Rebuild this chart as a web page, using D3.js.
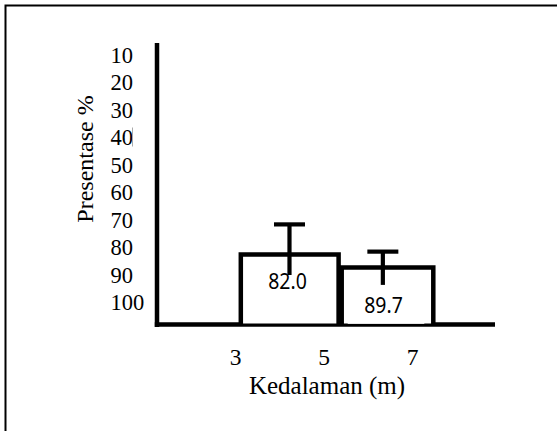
<!DOCTYPE html>
<html><head><meta charset="utf-8">
<script src="https://cdn.jsdelivr.net/npm/d3@7"></script>
<style>html,body{margin:0;padding:0;background:#fff;}svg{display:block;}</style>
</head><body>
<script>
// ---- data ----
const yTicks = [10, 20, 30, 40, 50, 60, 70, 80, 90, 100];
const xTicks = [3, 5, 7];
const barLabels = ["82.0", "89.7"];
const barLevel = [82.5, 87.3];       // bar top
const barStart = [3.12, 5.40];
const barEnd = [5.33, 7.47];
const errX = [4.22, 6.33];
const errHigh = [71.6, 81.5];
const errLow = [90.0, 93.6];
const yTitle = "Presentase %";
const xTitle = "Kedalaman (m)";

const W = 557, H = 431;
const svg = d3.select("body").append("svg").attr("width", W).attr("height", H);
const serif = "'Liberation Serif','Times New Roman',serif";
const sans = "'Noto Sans','Liberation Sans',sans-serif";

// frame
svg.append("rect").attr("x", 5.5).attr("y", 5.5).attr("width", 600).attr("height", 500)
  .attr("fill", "none").attr("stroke", "#000").attr("stroke-width", 2);

const y = d3.scaleLinear().domain([10, 100]).range([55, 302.5]);
const x = d3.scaleLinear().domain([3, 7]).range([235.5, 412.5]);
const baseY = 324.5;
const axisX = 157, axisTop = 43, axisRight = 495;

// y tick labels (left aligned, no tick marks)
svg.append("g").selectAll("text").data(yTicks).join("text")
  .attr("x", 110.5).attr("y", d => y(d) + 7.8)
  .attr("font-family", serif).attr("font-size", 22.5).attr("fill", "#000")
  .text(d => d);
// caret-like mark after 40
svg.append("line").attr("x1", 132.5).attr("x2", 132.5).attr("y1", y(40) - 10).attr("y2", y(40) + 9)
  .attr("stroke", "#aaa").attr("stroke-width", 1);

// axes
svg.append("line").attr("x1", axisX).attr("x2", axisX).attr("y1", axisTop).attr("y2", baseY + 2.5)
  .attr("stroke", "#000").attr("stroke-width", 4.5);
svg.append("line").attr("x1", axisX - 2.2).attr("x2", axisRight).attr("y1", baseY).attr("y2", baseY)
  .attr("stroke", "#000").attr("stroke-width", 4.5);

// bars
const bars = svg.append("g");
barLevel.forEach((v, i) => {
  const x0 = x(barStart[i]), x1 = x(barEnd[i]), yt = y(v);
  bars.append("rect").attr("x", x0).attr("y", yt).attr("width", x1 - x0).attr("height", baseY - yt - 1)
    .attr("fill", "#fff").attr("stroke", "none");
  bars.append("path")
    .attr("d", `M${x0},${baseY}V${yt}H${x1}V${baseY}`)
    .attr("fill", "none").attr("stroke", "#000").attr("stroke-width", 4.5).attr("stroke-linejoin", "miter");
});
// white gap on axis under second bar
svg.append("rect").attr("x", x(barStart[1]) + 6).attr("y", baseY - 2.5)
  .attr("width", x(barEnd[1]) - x(barStart[1]) - 15).attr("height", 1.8).attr("fill", "#fff");

// error bars
const eb = svg.append("g").attr("stroke", "#000").attr("stroke-width", 4.2);
errX.forEach((ex, i) => {
  const cx = x(ex);
  eb.append("line").attr("x1", cx).attr("x2", cx).attr("y1", y(errHigh[i])).attr("y2", y(errLow[i]));
  eb.append("line").attr("x1", cx - 15.5).attr("x2", cx + 15.5).attr("y1", y(errHigh[i])).attr("y2", y(errHigh[i]));
});

// bar value labels
const labPos = [[287.5, 289], [383.5, 313]];
svg.append("g").selectAll("text").data(barLabels).join("text")
  .attr("transform", (d, i) => `translate(${labPos[i][0]},${labPos[i][1]}) scale(0.95,1.08)`)
  .attr("text-anchor", "middle")
  .attr("font-family", sans).attr("font-size", 20.5).text(d => d);

// x tick labels
svg.append("g").selectAll("text").data(xTicks).join("text")
  .attr("x", d => x(d)).attr("y", 365).attr("text-anchor", "middle")
  .attr("font-family", serif).attr("font-size", 23.5).text(d => d);

// titles
svg.append("text").attr("x", 327).attr("y", 393.5).attr("text-anchor", "middle")
  .attr("font-family", serif).attr("font-size", 25).text(xTitle);
svg.append("text").attr("transform", "translate(92.5,159) rotate(-90)").attr("text-anchor", "middle")
  .attr("font-family", serif).attr("font-size", 24).text(yTitle);
</script>
</body></html>
